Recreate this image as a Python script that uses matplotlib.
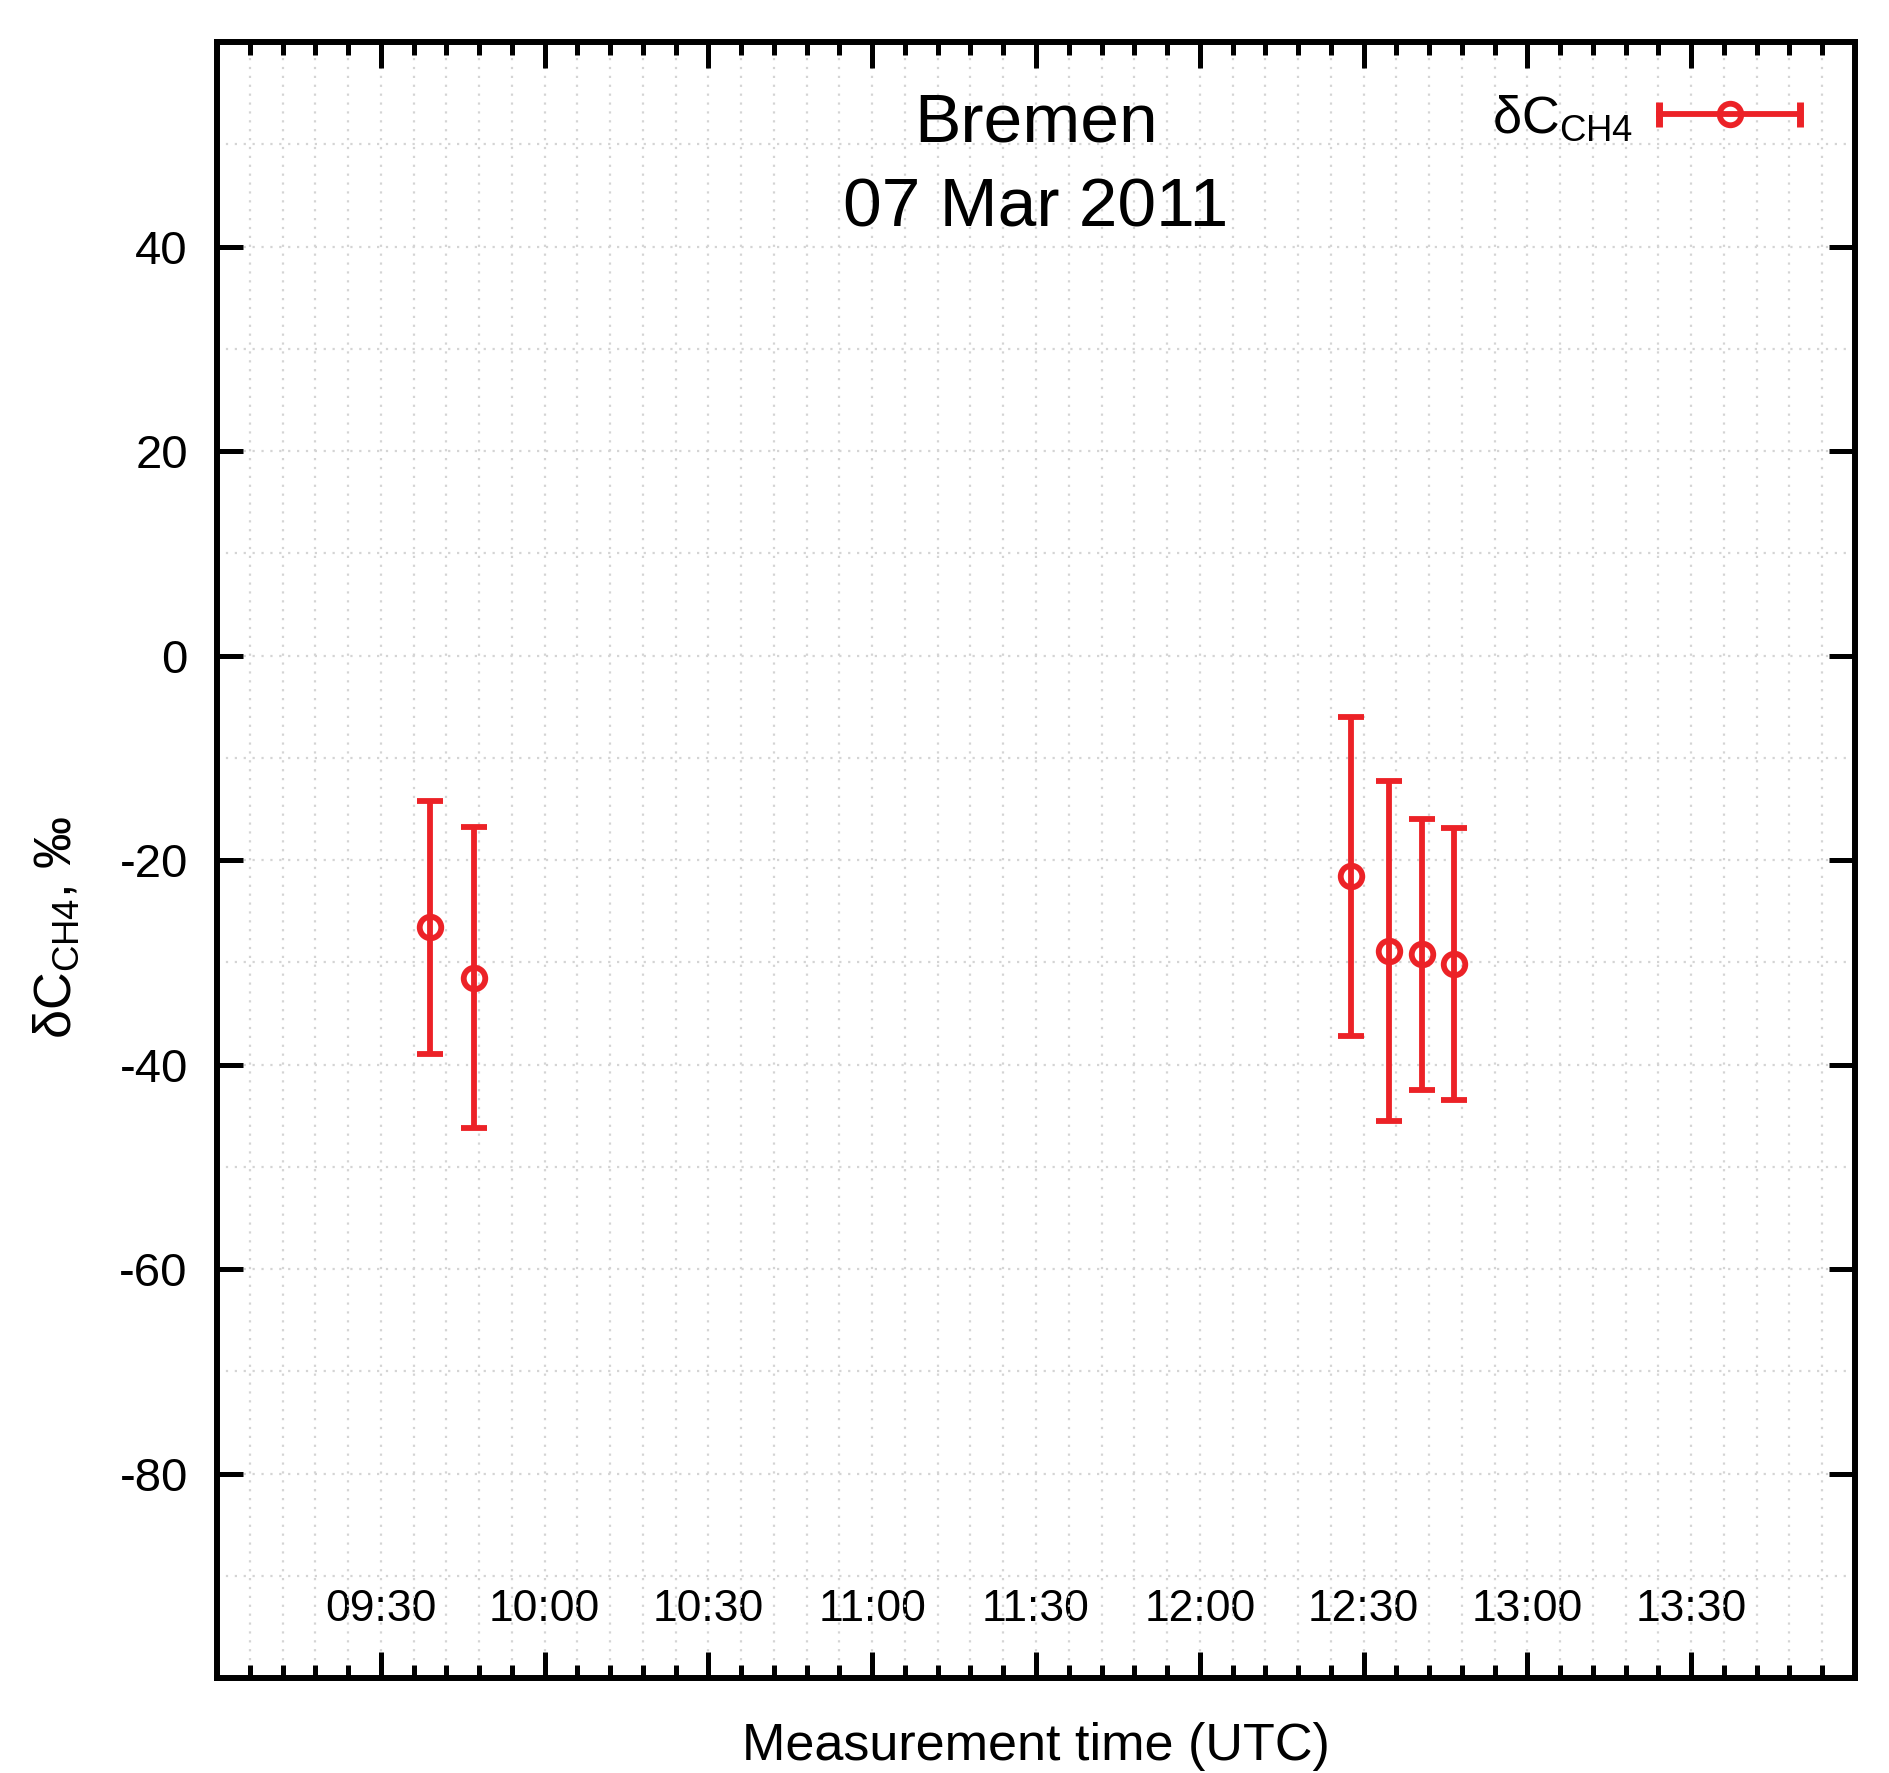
import matplotlib
matplotlib.use("Agg")
import matplotlib.pyplot as plt
import matplotlib.dates as mdates
from matplotlib.ticker import FixedLocator, MultipleLocator
from matplotlib.legend_handler import HandlerBase
from matplotlib.lines import Line2D
import pandas as pd

# ---------------- data ----------------
date = "2011-03-07"
times = ["09:39:00", "09:47:00", "12:27:42", "12:34:36", "12:40:42", "12:46:36"]
delta_c = [-26.6, -31.5, -21.6, -28.9, -29.2, -30.2]
delta_err = [12.35, 14.7, 15.6, 16.65, 13.25, 13.3]
xticks = ["09:30", "10:00", "10:30", "11:00", "11:30", "12:00", "12:30", "13:00", "13:30"]
yticks = [-80, -60, -40, -20, 0, 20, 40]
xlim = ["09:00", "14:00"]
ylim = [-100, 60]
title_lines = ["Bremen", "07 Mar 2011"]
xlabel = "Measurement time (UTC)"
ylabel = r"δC$_\mathregular{CH4}$, ‰"
legend_label = r"δC$_\mathregular{CH4}$"

# ---------------- style ----------------
plt.rcParams["font.family"] = ["Liberation Sans", "DejaVu Sans"]
plt.rcParams["mathtext.fontset"] = "custom"
plt.rcParams["mathtext.rm"] = "Liberation Sans"
plt.rcParams["mathtext.it"] = "Liberation Sans:italic"
plt.rcParams["axes.unicode_minus"] = False

RED = "#EC2227"
GRID = "#D4D4D4"

t = pd.to_datetime([f"{date} {s}" for s in times])
x0 = pd.to_datetime(f"{date} {xlim[0]}")
x1 = pd.to_datetime(f"{date} {xlim[1]}")
xt = mdates.date2num(pd.to_datetime([f"{date} {s}" for s in xticks]).to_pydatetime())

fig = plt.figure(figsize=(18.9, 17.73), dpi=100)
ax = fig.add_axes([0.11481, 0.05358, 0.86667, 0.92273])

ax.errorbar(t, delta_c, yerr=delta_err, fmt="o", color=RED, ecolor=RED,
            elinewidth=4.2, capsize=9.6, capthick=5.0, markersize=15.5,
            markeredgewidth=4.2, markerfacecolor="none", markeredgecolor=RED,
            zorder=3)

ax.set_xlim(x0, x1)
ax.set_ylim(*ylim)

ax.xaxis.set_major_locator(FixedLocator(xt))
ax.xaxis.set_minor_locator(mdates.MinuteLocator(byminute=list(range(0, 60, 6))))
ax.xaxis.set_major_formatter(mdates.DateFormatter("%H:%M"))
ax.yaxis.set_major_locator(FixedLocator(yticks))
ax.yaxis.set_minor_locator(MultipleLocator(10))

for sp in ax.spines.values():
    sp.set_linewidth(4.3)
    sp.set_capstyle("projecting")

ax.tick_params(which="major", direction="in", length=19, width=3.6,
               top=True, right=True, color="black")
ax.tick_params(axis="x", which="minor", direction="in", length=9.4, width=3.6,
               top=True, bottom=True)
ax.tick_params(axis="y", which="minor", length=0, width=0)
ax.tick_params(axis="x", which="major", labelsize=32, pad=-64)
ax.tick_params(axis="y", which="major", labelsize=34, pad=21)

ax.set_axisbelow(True)
ax.grid(which="both", linestyle=(0, (1, 3)), color=GRID, linewidth=1.6)

# title inside
ax.text(0.5, 0.939, title_lines[0], transform=ax.transAxes, ha="center",
        va="baseline", fontsize=50)
ax.text(0.5, 0.887, title_lines[1], transform=ax.transAxes, ha="center",
        va="baseline", fontsize=50)

ax.set_xlabel(xlabel, fontsize=37.5)
ax.xaxis.label.set_va("center")
ax.xaxis.set_label_coords(0.5, -0.0419)
ax.set_ylabel(ylabel, fontsize=37.5)
ax.yaxis.label.set_va("center")
ax.yaxis.set_label_coords(-0.0977, 0.459)


class HandlerHErr(HandlerBase):
    def create_artists(self, legend, orig_handle, xdescent, ydescent,
                       width, height, fontsize, trans):
        y = height / 2 - ydescent
        xa, xb = -xdescent, width - xdescent
        line = Line2D([xa, xb], [y, y], color=RED, lw=4.2)
        caps = Line2D([xa, xb], [y, y], ls="none", marker="|", ms=18,
                      mew=5.0, color=RED)
        circ = Line2D([(xa + xb) / 2], [y], ls="none", marker="o", ms=15.5,
                      mew=4.2, mfc="none", mec=RED)
        for a in (line, caps, circ):
            a.set_transform(trans)
        return [line, caps, circ]


handle = Line2D([], [], color=RED)
ax.legend([handle], [legend_label], handler_map={Line2D: HandlerHErr()},
          loc="center right", bbox_to_anchor=(0.9664, 0.953),
          frameon=False, fontsize=37.5, markerfirst=False,
          handlelength=2.7, handletextpad=0.5, borderpad=0, borderaxespad=0)

fig.savefig("out.png", dpi=100, facecolor="white")
